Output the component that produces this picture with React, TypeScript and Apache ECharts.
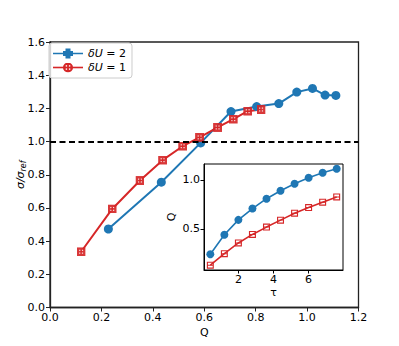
import React, { useEffect, useRef } from "react";
import * as echarts from "echarts";

const blueQ = [0.227, 0.433, 0.586, 0.704, 0.804, 0.89, 0.96, 1.021, 1.07, 1.112];
const blueSigma = [0.473, 0.755, 0.992, 1.181, 1.211, 1.229, 1.298, 1.32, 1.28, 1.278];
const redQ = [0.121, 0.242, 0.35, 0.438, 0.516, 0.582, 0.652, 0.713, 0.769, 0.821];
const redSigma = [0.336, 0.594, 0.765, 0.888, 0.972, 1.025, 1.085, 1.135, 1.183, 1.193];

const tau = [0.4, 1.2, 2.0, 2.8, 3.6, 4.4, 5.2, 6.0, 6.8, 7.6];
const blueInsetQ = [0.239, 0.439, 0.591, 0.706, 0.807, 0.888, 0.96, 1.02, 1.071, 1.112];
const redInsetQ = [0.128, 0.246, 0.355, 0.442, 0.517, 0.588, 0.659, 0.716, 0.771, 0.825];

const mainXTicks = [0, 1.2, 0.2];
const mainYTicks = [0, 1.6, 0.2];
const insetXTicks = [2, 4, 6];
const insetYTicks = [0.5, 1.0];

const BLUE = "#1f77b4";
const RED = "#d62728";

const svgUrl = (s: string) => "image://data:image/svg+xml;charset=utf-8," + encodeURIComponent(s);

const redSquareDots = svgUrl(
  "<svg xmlns='http://www.w3.org/2000/svg' width='18' height='18' viewBox='0 0 18 18'>" +
    "<rect x='0' y='0' width='18' height='18' fill='#d62728' fill-opacity='0.92'/>" +
    "<rect x='5' y='5' width='2.4' height='2.4' fill='#fff' fill-opacity='0.85'/>" +
    "<rect x='10.6' y='5' width='2.4' height='2.4' fill='#fff' fill-opacity='0.85'/>" +
    "<rect x='5' y='10.6' width='2.4' height='2.4' fill='#fff' fill-opacity='0.85'/>" +
    "<rect x='10.6' y='10.6' width='2.4' height='2.4' fill='#fff' fill-opacity='0.85'/>" +
    "</svg>"
);
const redLegendIcon = svgUrl(
  "<svg xmlns='http://www.w3.org/2000/svg' width='60' height='20' viewBox='0 0 60 20'>" +
    "<rect x='0' y='8.4' width='60' height='3.2' fill='#d62728'/>" +
    "<circle cx='30' cy='10' r='10' fill='#d62728'/>" +
    "<rect x='25.4' y='5.4' width='2.8' height='2.8' fill='#fff'/>" +
    "<rect x='31.8' y='5.4' width='2.8' height='2.8' fill='#fff'/>" +
    "<rect x='25.4' y='11.8' width='2.8' height='2.8' fill='#fff'/>" +
    "<rect x='31.8' y='11.8' width='2.8' height='2.8' fill='#fff'/>" +
    "</svg>"
);
const redSquareBar =
  "path://M0,0H10V10H0Z M1.6,1.6V4.3H8.4V1.6Z M1.6,5.7V8.4H8.4V5.7Z";
const blueLegendIcon =
  "path://M0,4.2H30V5.8H0Z M12.5,0H17.5V2.5H20V7.5H17.5V10H12.5V7.5H10V2.5H12.5Z";

const FONT = "DejaVu Sans";

export default function App() {
  const ref = useRef<HTMLDivElement>(null);
  useEffect(() => {
    if (!ref.current) return;
    const chart = echarts.init(ref.current, undefined, { renderer: "svg" });
    const pairs = (xs: number[], ys: number[]) => xs.map((x, i) => [x, ys[i]]);
    const tickLabel = { fontFamily: FONT, fontSize: 11, color: "#000" };
    chart.setOption({
      animation: false,
      backgroundColor: "#fff",
      legend: {
        orient: "vertical",
        left: 49,
        top: 43,
        padding: [5, 6, 5, 4],
        itemWidth: 30,
        itemHeight: 10,
        itemGap: 3,
        borderColor: "#cccccc",
        borderWidth: 1,
        borderRadius: 3,
        backgroundColor: "rgba(255,255,255,0.8)",
        data: [
          { name: "b", icon: blueLegendIcon, itemStyle: { color: BLUE } },
          { name: "r", icon: redLegendIcon },
        ],
        formatter: (n: string) => (n === "b" ? "{i|δU} = 2" : "{i|δU} = 1"),
        textStyle: {
          fontFamily: FONT,
          fontSize: 11,
          color: "#000",
          rich: { i: { fontFamily: FONT, fontSize: 11, fontStyle: "italic", color: "#000" } },
        },
      },
      grid: [
        {
          left: 50,
          top: 42,
          width: 308.5,
          height: 265.5,
          show: true,
          borderColor: "#222",
          borderWidth: 1.3,
          backgroundColor: "transparent",
        },
        {
          left: 204,
          top: 164,
          width: 139,
          height: 106,
          show: true,
          borderColor: "#000",
          borderWidth: 1,
          backgroundColor: "#fff",
          z: 5,
        },
      ],
      xAxis: [
        {
          type: "value",
          gridIndex: 0,
          min: mainXTicks[0],
          max: mainXTicks[1],
          interval: mainXTicks[2],
          splitLine: { show: false },
          axisLine: { show: true, onZero: false, lineStyle: { color: "#222", width: 1.3 } },
          axisTick: { show: true, length: 4, lineStyle: { color: "#222" } },
          axisLabel: { ...tickLabel, margin: 4, formatter: (v: number) => v.toFixed(1) },
          name: "Q",
          nameLocation: "middle",
          nameGap: 16,
          nameTextStyle: { fontFamily: FONT, fontSize: 11, color: "#000" },
        },
        {
          type: "value",
          gridIndex: 1,
          min: 0.04,
          max: 7.96,
          splitLine: { show: false },
          axisLine: { show: true, onZero: false, lineStyle: { color: "#000", width: 1 } },
          axisTick: { show: true, length: 3.5, customValues: insetXTicks, lineStyle: { color: "#000" } },
          axisLabel: { ...tickLabel, margin: 4, customValues: insetXTicks, formatter: (v: number) => String(v) },
          name: "τ",
          nameLocation: "middle",
          nameGap: 17,
          nameTextStyle: { fontFamily: FONT, fontSize: 11, color: "#000" },
          z: 6,
        },
      ],
      yAxis: [
        {
          type: "value",
          gridIndex: 0,
          min: mainYTicks[0],
          max: mainYTicks[1],
          interval: mainYTicks[2],
          splitLine: { show: false },
          axisLine: { show: true, onZero: false, lineStyle: { color: "#222", width: 1.3 } },
          axisTick: { show: true, length: 4, lineStyle: { color: "#222" } },
          axisLabel: { ...tickLabel, margin: 5, formatter: (v: number) => v.toFixed(1) },
          name: "{s|σ/σ}{b|ref}",
          nameLocation: "middle",
          nameGap: 23,
          nameMoveOverlap: false,
          nameRotate: 90,
          nameTextStyle: {
            fontFamily: FONT,
            fontSize: 11,
            color: "#000",
            rich: {
              s: { fontFamily: FONT, fontSize: 11, fontStyle: "italic", color: "#000" },
              b: { fontFamily: FONT, fontSize: 8, fontStyle: "italic", color: "#000", padding: [5, 0, 0, 0] },
            },
          },
        },
        {
          type: "value",
          gridIndex: 1,
          min: 0.079,
          max: 1.161,
          splitLine: { show: false },
          axisLine: { show: true, onZero: false, lineStyle: { color: "#000", width: 1 } },
          axisTick: { show: true, length: 3.5, customValues: insetYTicks, lineStyle: { color: "#000" } },
          axisLabel: { ...tickLabel, margin: 4, customValues: insetYTicks, formatter: (v: number) => v.toFixed(1) },
          name: "Q",
          nameLocation: "middle",
          nameGap: 27,
          nameRotate: 90,
          nameTextStyle: { fontFamily: FONT, fontSize: 11, color: "#000" },
          z: 6,
        },
      ],
      series: [
        {
          name: "b",
          type: "line",
          xAxisIndex: 0,
          yAxisIndex: 0,
          data: pairs(blueQ, blueSigma),
          symbol: "circle",
          symbolSize: 9,
          lineStyle: { color: BLUE, width: 2 },
          itemStyle: { color: BLUE },
          markLine: {
            silent: true,
            symbol: "none",
            label: { show: false },
            lineStyle: { color: "#000", width: 1.8, type: [6, 3.5] },
            data: [{ yAxis: 1 }],
          },
        },
        {
          name: "r",
          type: "line",
          xAxisIndex: 0,
          yAxisIndex: 0,
          data: pairs(redQ, redSigma),
          symbol: redSquareDots,
          symbolSize: 9,
          lineStyle: { color: RED, width: 2 },
          itemStyle: { color: RED },
        },
        {
          name: "bi",
          type: "line",
          xAxisIndex: 1,
          yAxisIndex: 1,
          data: pairs(tau, blueInsetQ),
          symbol: "circle",
          symbolSize: 8,
          lineStyle: { color: BLUE, width: 1.6 },
          itemStyle: { color: BLUE },
          z: 7,
        },
        {
          name: "ri",
          type: "line",
          xAxisIndex: 1,
          yAxisIndex: 1,
          data: pairs(tau, redInsetQ),
          symbol: redSquareBar,
          symbolSize: 7,
          lineStyle: { color: RED, width: 1.6 },
          itemStyle: { color: RED },
          z: 7,
        },
      ],
    });
    return () => chart.dispose();
  }, []);
  return <div ref={ref} style={{ width: 399, height: 346, position: "absolute", left: 0, top: 0 }} />;
}
